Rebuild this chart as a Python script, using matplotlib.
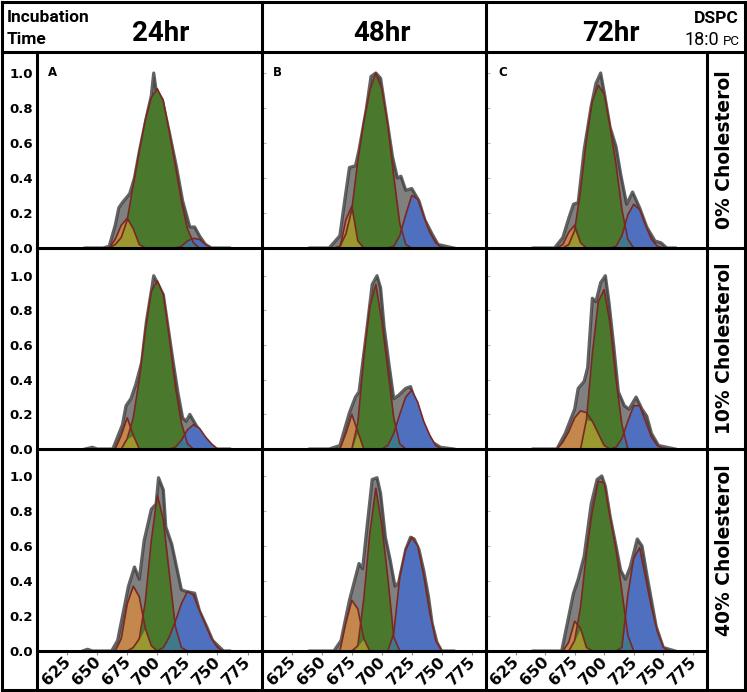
# -*- coding: utf-8 -*-
import matplotlib
matplotlib.use("Agg")
import matplotlib.pyplot as plt
import numpy as np
from matplotlib.lines import Line2D

# wavelength grid for the fitted components (nm)
wl = [650, 655, 660, 665, 670, 675, 680, 685, 690, 695, 700, 705,
      710, 715, 720, 725, 730, 735, 740, 745, 750, 755, 760]

times = ['24hr', '48hr', '72hr']
chol = ['0% Cholesterol', '10% Cholesterol', '40% Cholesterol']
letters = ['A', 'B', 'C']
yticks = [0.0, 0.2, 0.4, 0.6, 0.8, 1.0]
panel_xticks = [628, 661, 694, 727, 759]
xtick_labels = [625, 650, 675, 700, 725, 750, 775]

# A: 24hr / 0%
gray_x_A = [640, 655, 660, 665, 668, 671, 677, 681, 685, 691, 695, 697, 699, 704, 710, 716, 721, 727, 731, 735, 740, 745, 760]
gray_y_A = [0, 0, 0.01, 0.13, 0.23, 0.26, 0.31, 0.40, 0.55, 0.75, 0.87, 1.00, 0.90, 0.85, 0.66, 0.46, 0.27, 0.12, 0.12, 0.07, 0.02, 0, 0]
orange_A = [0, 0, 0, 0.05, 0.13, 0.17, 0.11, 0.02, 0, 0, 0, 0, 0, 0, 0, 0, 0, 0, 0, 0, 0, 0, 0]
green_A = [0, 0, 0, 0.02, 0.06, 0.16, 0.36, 0.55, 0.73, 0.86, 0.91, 0.84, 0.66, 0.47, 0.27, 0.11, 0.03, 0, 0, 0, 0, 0, 0]
blue_A = [0, 0, 0, 0, 0, 0, 0, 0, 0, 0, 0, 0, 0, 0, 0.01, 0.04, 0.055, 0.05, 0.02, 0, 0, 0, 0]

# B: 48hr / 0%
gray_x_B = [640, 656, 665, 669, 673, 678, 681, 687, 691, 695, 699, 703, 709, 713, 716, 720, 725, 731, 736, 742, 747, 760]
gray_y_B = [0, 0, 0.07, 0.27, 0.46, 0.47, 0.56, 0.79, 0.98, 1.00, 0.97, 0.79, 0.52, 0.40, 0.41, 0.33, 0.34, 0.27, 0.16, 0.08, 0.02, 0]
orange_B = [0, 0, 0, 0, 0.16, 0.24, 0.04, 0, 0, 0, 0, 0, 0, 0, 0, 0, 0, 0, 0, 0, 0, 0, 0]
green_B = [0, 0, 0, 0.01, 0.08, 0.22, 0.50, 0.72, 0.90, 1.00, 0.91, 0.70, 0.41, 0.14, 0.02, 0, 0, 0, 0, 0, 0, 0, 0]
blue_B = [0, 0, 0, 0, 0, 0, 0, 0, 0, 0, 0, 0, 0.01, 0.07, 0.19, 0.30, 0.28, 0.18, 0.09, 0.03, 0, 0, 0]

# C: 72hr / 0%
gray_x_C = [640, 658, 665, 670, 674, 678, 683, 689, 693, 697, 700, 705, 710, 714, 719, 724, 730, 736, 743, 748, 753, 760]
gray_y_C = [0, 0, 0.06, 0.17, 0.25, 0.26, 0.56, 0.81, 0.94, 1.00, 0.89, 0.69, 0.58, 0.42, 0.25, 0.32, 0.23, 0.12, 0.04, 0.03, 0, 0]
orange_C = [0, 0, 0, 0.02, 0.09, 0.13, 0.03, 0, 0, 0, 0, 0, 0, 0, 0, 0, 0, 0, 0, 0, 0, 0, 0]
green_C = [0, 0, 0, 0, 0.02, 0.10, 0.33, 0.62, 0.84, 0.93, 0.88, 0.69, 0.48, 0.22, 0.05, 0, 0, 0, 0, 0, 0, 0, 0]
blue_C = [0, 0, 0, 0, 0, 0, 0, 0, 0, 0, 0, 0, 0.01, 0.07, 0.19, 0.25, 0.22, 0.13, 0.05, 0.01, 0, 0, 0]

# D: 24hr / 10%
gray_x_D = [640, 646, 650, 663, 671, 674, 678, 682, 687, 691, 695, 697, 700, 705, 709, 713, 717, 721, 724, 727, 732, 738, 745, 749, 760]
gray_y_D = [0, 0.01, 0, 0, 0.14, 0.25, 0.29, 0.37, 0.50, 0.74, 0.91, 1.00, 0.96, 0.89, 0.70, 0.51, 0.33, 0.18, 0.16, 0.20, 0.14, 0.07, 0.02, 0, 0]
orange_D = [0, 0, 0, 0, 0.08, 0.18, 0.08, 0, 0, 0, 0, 0, 0, 0, 0, 0, 0, 0, 0, 0, 0, 0, 0]
green_D = [0, 0, 0, 0, 0, 0.06, 0.18, 0.40, 0.68, 0.91, 0.97, 0.89, 0.64, 0.36, 0.15, 0.03, 0, 0, 0, 0, 0, 0, 0]
blue_D = [0, 0, 0, 0, 0, 0, 0, 0, 0, 0, 0, 0, 0, 0.01, 0.05, 0.11, 0.14, 0.12, 0.07, 0.03, 0, 0, 0]

# E: 48hr / 10%
gray_x_E = [640, 656, 665, 673, 678, 681, 687, 692, 696, 699, 702, 706, 710, 714, 720, 724, 729, 736, 742, 749, 760]
gray_y_E = [0, 0, 0.02, 0.21, 0.30, 0.33, 0.66, 0.95, 1.00, 0.93, 0.70, 0.49, 0.29, 0.31, 0.35, 0.36, 0.25, 0.12, 0.04, 0.01, 0]
orange_E = [0, 0, 0, 0, 0.09, 0.20, 0.10, 0, 0, 0, 0, 0, 0, 0, 0, 0, 0, 0, 0, 0, 0, 0, 0]
green_E = [0, 0, 0, 0, 0, 0, 0.15, 0.53, 0.82, 0.95, 0.74, 0.46, 0.18, 0.03, 0, 0, 0, 0, 0, 0, 0, 0, 0]
blue_E = [0, 0, 0, 0, 0, 0, 0, 0, 0, 0, 0, 0.02, 0.09, 0.20, 0.30, 0.34, 0.27, 0.16, 0.08, 0.02, 0, 0, 0]

# F: 72hr / 10%
gray_x_F = [640, 660, 667, 675, 678, 683, 686, 690, 693, 697, 701, 704, 708, 712, 717, 721, 727, 732, 736, 740, 746, 760]
gray_y_F = [0, 0, 0.09, 0.23, 0.35, 0.39, 0.47, 0.87, 0.85, 0.96, 1.00, 0.85, 0.60, 0.33, 0.25, 0.23, 0.30, 0.23, 0.19, 0.09, 0.02, 0]
orange_F = [0, 0, 0, 0.04, 0.10, 0.18, 0.22, 0.21, 0.16, 0.09, 0.02, 0, 0, 0, 0, 0, 0, 0, 0, 0, 0, 0, 0]
green_F = [0, 0, 0, 0, 0, 0, 0, 0.17, 0.55, 0.85, 0.92, 0.72, 0.40, 0.14, 0, 0, 0, 0, 0, 0, 0, 0, 0]
blue_F = [0, 0, 0, 0, 0, 0, 0, 0, 0, 0, 0, 0, 0.01, 0.06, 0.16, 0.25, 0.25, 0.16, 0.07, 0.02, 0, 0, 0]

# G: 24hr / 40%
gray_x_G = [638, 642, 646, 662, 667, 676, 681, 685, 689, 695, 699, 701, 705, 707, 712, 716, 720, 724, 731, 735, 741, 746, 755, 760]
gray_y_G = [0, 0.01, 0, 0, 0.06, 0.37, 0.48, 0.41, 0.63, 0.81, 0.84, 0.99, 0.92, 0.71, 0.61, 0.48, 0.35, 0.34, 0.33, 0.23, 0.14, 0.06, 0, 0]
orange_G = [0, 0, 0, 0, 0.07, 0.27, 0.37, 0.31, 0.13, 0.03, 0, 0, 0, 0, 0, 0, 0, 0, 0, 0, 0, 0, 0]
green_G = [0, 0, 0, 0, 0, 0, 0.02, 0.07, 0.28, 0.63, 0.89, 0.75, 0.44, 0.14, 0.02, 0, 0, 0, 0, 0, 0, 0, 0]
blue_G = [0, 0, 0, 0, 0, 0, 0, 0, 0, 0, 0, 0.02, 0.08, 0.17, 0.27, 0.34, 0.32, 0.23, 0.15, 0.07, 0.02, 0, 0]

# H: 48hr / 40%
gray_x_H = [640, 660, 666, 673, 681, 684, 688, 692, 696, 699, 703, 707, 711, 714, 720, 724, 727, 731, 735, 739, 742, 746, 750, 760]
gray_y_H = [0, 0, 0.06, 0.29, 0.50, 0.47, 0.73, 0.98, 0.99, 0.90, 0.65, 0.52, 0.37, 0.39, 0.58, 0.65, 0.64, 0.58, 0.46, 0.31, 0.16, 0.05, 0, 0]
orange_H = [0, 0, 0, 0, 0.16, 0.29, 0.24, 0.07, 0, 0, 0, 0, 0, 0, 0, 0, 0, 0, 0, 0, 0, 0, 0]
green_H = [0, 0, 0, 0, 0, 0, 0.03, 0.30, 0.67, 0.93, 0.72, 0.42, 0.08, 0, 0, 0, 0, 0, 0, 0, 0, 0, 0]
blue_H = [0, 0, 0, 0, 0, 0, 0, 0, 0, 0, 0, 0, 0.10, 0.42, 0.58, 0.65, 0.60, 0.43, 0.22, 0.06, 0, 0, 0]

# I: 72hr / 40%
gray_x_I = [640, 664, 674, 678, 683, 689, 694, 698, 701, 705, 710, 714, 718, 722, 728, 732, 736, 740, 744, 750, 760]
gray_y_I = [0, 0, 0.33, 0.41, 0.54, 0.84, 0.98, 1.00, 0.94, 0.77, 0.60, 0.46, 0.41, 0.48, 0.64, 0.60, 0.44, 0.29, 0.14, 0.02, 0]
orange_I = [0, 0, 0, 0, 0.05, 0.17, 0.13, 0.02, 0, 0, 0, 0, 0, 0, 0, 0, 0, 0, 0, 0, 0, 0, 0]
green_I = [0, 0, 0, 0, 0, 0.06, 0.25, 0.56, 0.80, 0.97, 0.96, 0.76, 0.58, 0.34, 0.09, 0, 0, 0, 0, 0, 0, 0, 0]
blue_I = [0, 0, 0, 0, 0, 0, 0, 0, 0, 0, 0, 0, 0, 0.02, 0.32, 0.53, 0.59, 0.42, 0.25, 0.11, 0.02, 0, 0]

panels = [
    [(gray_x_A, gray_y_A, orange_A, green_A, blue_A),
     (gray_x_B, gray_y_B, orange_B, green_B, blue_B),
     (gray_x_C, gray_y_C, orange_C, green_C, blue_C)],
    [(gray_x_D, gray_y_D, orange_D, green_D, blue_D),
     (gray_x_E, gray_y_E, orange_E, green_E, blue_E),
     (gray_x_F, gray_y_F, orange_F, green_F, blue_F)],
    [(gray_x_G, gray_y_G, orange_G, green_G, blue_G),
     (gray_x_H, gray_y_H, orange_H, green_H, blue_H),
     (gray_x_I, gray_y_I, orange_I, green_I, blue_I)],
]

# colours
c_gray = '#808080'
c_gray_edge = '#3d3d3d'
c_orange = '#c4884c'
c_green = '#4a782c'
c_blue = '#4e70be'
c_olive = '#9c9830'
c_teal = '#3e7a8c'
c_edge = '#7a2820'

W, H = 747, 692
fig = plt.figure(figsize=(W / 100, H / 100), dpi=100)
fig.patch.set_facecolor('white')

def fx(px):
    return px / W

def fy(py):
    return 1 - py / H

def ftext(px, py, s, **kw):
    fig.text(fx(px), fy(py), s, **kw)

cols = [(37, 262), (262, 486), (486, 707)]
rows = [(52, 248), (248, 449), (449, 651)]
ytops = [1.12, 1.16, 1.154]
xlim = (600, 787)

for r in range(3):
    for c in range(3):
        x0, x1 = cols[c]
        y0, y1 = rows[r]
        ax = fig.add_axes([fx(x0), fy(y1), (x1 - x0) / W, (y1 - y0) / H])
        ax.set_xlim(*xlim)
        ax.set_ylim(0, ytops[r])
        for sp in ax.spines.values():
            sp.set_visible(False)

        gx, gy, orng, grn, blu = panels[r][c]
        orng = np.array(orng)
        grn = np.array(grn)
        blu = np.array(blu)

        ax.fill_between(gx, gy, color=c_gray, lw=0, zorder=1)
        ax.plot(gx, gy, color=c_gray_edge, lw=2.3, alpha=0.8, zorder=1.5)

        ax.fill_between(wl, orng, color=c_orange, lw=0, zorder=2)
        ax.fill_between(wl, grn, color=c_green, lw=0, zorder=2)
        ax.fill_between(wl, blu, color=c_blue, lw=0, zorder=2)
        ax.fill_between(wl, np.minimum(orng, grn), color=c_olive, lw=0, zorder=3)
        ax.fill_between(wl, np.minimum(grn, blu), color=c_teal, lw=0, zorder=3)
        for comp in (orng, grn, blu):
            ax.plot(wl, comp, color=c_edge, lw=1.2, zorder=4)

        ax.set_yticks(yticks)
        if c == 0:
            ax.set_yticklabels(['%.1f' % v for v in yticks], fontsize=9.5,
                               fontweight='bold')
            ax.tick_params(axis='y', length=0, pad=3)
        else:
            ax.tick_params(axis='y', direction='in', length=3, width=0.8,
                           color='#b5b5b5', labelleft=False)
        if r < 2:
            ax.set_xticks(panel_xticks)
            ax.tick_params(axis='x', direction='out', length=3, width=0.8,
                           color='#b5b5b5', labelbottom=False)
        else:
            ax.set_xticks([])

    # right hand row label
    ftext(724, (rows[r][0] + rows[r][1]) / 2, chol[r], rotation=90,
          ha='center', va='center', fontsize=13.5, fontweight='bold')

# bottom wavelength labels
for c in range(3):
    x0, x1 = cols[c]
    sx = fig.add_axes([fx(x0), fy(690), (x1 - x0) / W, (690 - 651) / H])
    sx.set_xlim(*xlim)
    sx.set_ylim(0, 1)
    sx.set_yticks([])
    for sp in sx.spines.values():
        sp.set_visible(False)
    sx.set_xticks(xtick_labels)
    sx.tick_params(axis='x', top=True, bottom=False, labeltop=False,
                   labelbottom=False, direction='in', length=3, width=0.8,
                   color='#909090')
    tr = sx.get_xaxis_transform()
    for v in xtick_labels:
        sx.text(v + 1, 0.80, str(v), transform=tr, rotation=45,
                rotation_mode='anchor', ha='right', va='center',
                fontsize=11.5, fontweight='bold')

# header text
ftext(7, 22, 'Incubation', ha='left', va='baseline', family='Roboto',
      fontweight='bold', fontsize=12.5)
ftext(7, 44, 'Time', ha='left', va='baseline', family='Roboto',
      fontweight='bold', fontsize=12.5)
for xc, t in zip([161, 382, 611], times):
    ftext(xc, 41, t, ha='center', va='baseline', family='Roboto',
          fontweight='bold', fontsize=20)
ftext(739, 23, 'DSPC', ha='right', va='baseline', family='Roboto',
      fontweight='bold', fontsize=12.5)
ftext(719, 45, '18:0', ha='right', va='baseline', family='Roboto', fontsize=13)
ftext(740, 45, 'PC', ha='right', va='baseline', family='Roboto', fontsize=9.5)

for xc, lab in zip([53, 277, 503], letters):
    ftext(xc, 73, lab, ha='center', va='center', fontsize=8.5,
          fontweight='bold')

# frame lines
lw = 2.2

def hline(py, px0, px1):
    fig.add_artist(Line2D([fx(px0), fx(px1)], [fy(py), fy(py)], color='black',
                          lw=lw, solid_capstyle='projecting', zorder=10))

def vline(px, py0, py1):
    fig.add_artist(Line2D([fx(px), fx(px)], [fy(py0), fy(py1)], color='black',
                          lw=lw, solid_capstyle='projecting', zorder=10))

hline(2, 2, 745)
hline(690, 2, 745)
vline(2, 2, 690)
vline(745, 2, 690)
hline(52, 2, 745)
hline(248, 37, 745)
hline(449, 37, 745)
hline(651, 37, 707)
vline(37, 52, 690)
vline(262, 2, 690)
vline(486, 2, 690)
vline(707, 52, 690)

fig.savefig('out.png', dpi=100)
